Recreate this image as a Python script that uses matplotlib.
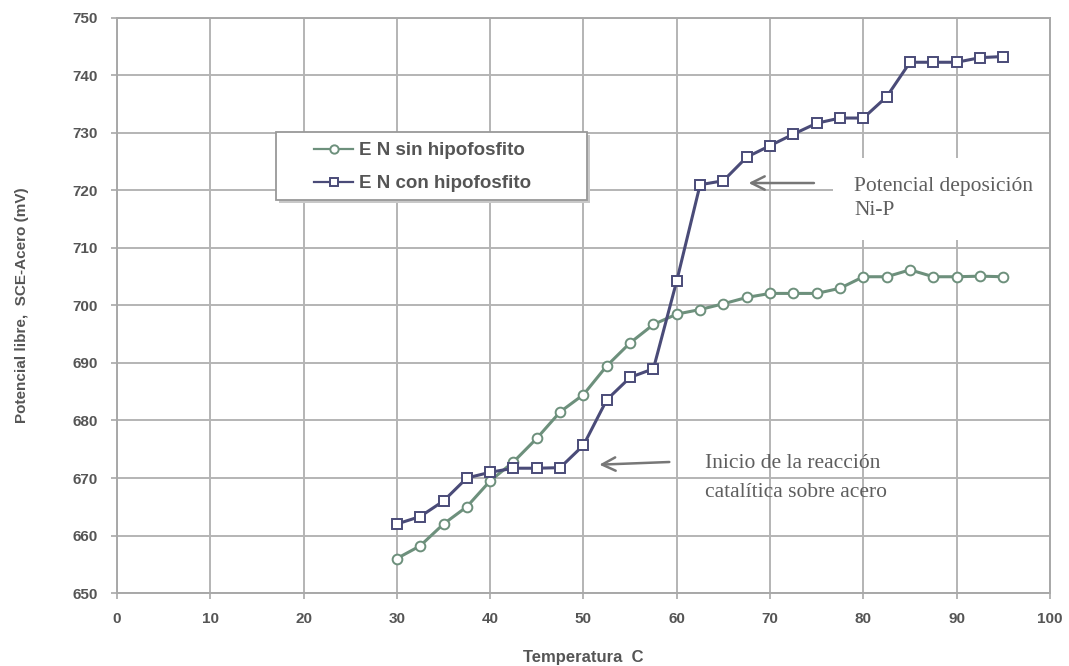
import matplotlib as mpl
import matplotlib.pyplot as plt
import numpy as np
from matplotlib.patches import Rectangle

# --- data ---
temp = np.arange(30, 95.1, 2.5)

sin_hipo = [656, 658.2, 662, 665, 669.5, 672.8, 676.9, 681.5, 684.5, 689.5,
            693.5, 696.7, 698.5, 699.3, 700.3, 701.4, 702.1, 702.1, 702.1,
            703, 705, 705, 706.2, 705, 705, 705.1, 705]

con_hipo = [662, 663.3, 666, 670, 671, 671.7, 671.7, 671.8, 675.7, 683.6,
            687.5, 689, 704.3, 721, 721.7, 725.8, 727.8, 729.8, 731.7,
            732.6, 732.6, 736.3, 742.3, 742.3, 742.3, 743.1, 743.3]

xticks = list(range(0, 101, 10))
yticks = list(range(650, 751, 10))

PALETTE = {
    "sin": "#6d907c",
    "con": "#4a4b78",
    "grid": "#b4b4b4",
    "text": "#555555",
    "note": "#5e5e5e",
}

mpl.rcParams.update({
    "font.family": ["Liberation Sans", "DejaVu Sans"],
    "font.size": 10,
})

fig = plt.figure(figsize=(10.69, 6.66), dpi=100)
ax = fig.add_axes([0.1094, 0.1096, 0.8728, 0.8634])

ax.set_xlim(0, 100)
ax.set_ylim(650, 750)
ax.set_xticks(xticks)
ax.set_yticks(yticks)
ax.grid(True, color=PALETTE["grid"], linewidth=1.4)
ax.set_axisbelow(True)
for sp in ax.spines.values():
    sp.set_color("#a8a8a8")
    sp.set_linewidth(1.4)

ax.tick_params(axis="both", colors="#a8a8a8", labelcolor=PALETTE["text"],
               labelsize=11, length=4, width=1.2)
ax.tick_params(axis="y", pad=10)
ax.tick_params(axis="x", pad=10)
for lab in ax.get_xticklabels() + ax.get_yticklabels():
    lab.set_fontweight("bold")

# Series
ax.plot(temp, sin_hipo, color=PALETTE["sin"], linewidth=2.2, marker="o",
        markersize=7, markerfacecolor="white", markeredgecolor=PALETTE["sin"],
        markeredgewidth=1.4, label="E N sin hipofosfito", zorder=3)
ax.plot(temp, con_hipo, color=PALETTE["con"], linewidth=2.2, marker="s",
        markersize=7, markerfacecolor="white", markeredgecolor=PALETTE["con"],
        markeredgewidth=1.4, label="E N con hipofosfito", zorder=4)

ax.set_xlabel("Temperatura  C", fontsize=12, fontweight="bold",
              color=PALETTE["text"], labelpad=17)
ax.set_ylabel("Potencial libre,  SCE-Acero (mV)", fontsize=11,
              fontweight="bold", color=PALETTE["text"], labelpad=31)

# Legend box drawn by hand (wide padding like the original)
box = Rectangle((0.171, 0.684), 0.333, 0.118, transform=ax.transAxes,
                facecolor="white", edgecolor="#999999", linewidth=1.3,
                zorder=5)
shadow = Rectangle((0.174, 0.679), 0.333, 0.118, transform=ax.transAxes,
                   facecolor="#c8c8c8", edgecolor="none", zorder=4.9)
ax.add_patch(shadow)
ax.add_patch(box)
leg = ax.legend(loc="upper left", bbox_to_anchor=(0.205, 0.794),
                frameon=False, fontsize=13.5, handlelength=2.1,
                handletextpad=0.3, labelspacing=0.85, borderpad=0.3,
                borderaxespad=0)
leg.set_zorder(6)
for h in leg.legend_handles:
    h.set_linewidth(1.6)
    h.set_markersize(6)
for t in leg.get_texts():
    t.set_color(PALETTE["text"])
    t.set_fontweight("bold")

# Annotations
serif = ["Liberation Serif", "DejaVu Serif"]
ax.add_patch(Rectangle((76.7, 711.4), 23.6, 14.3, facecolor="white",
                       edgecolor="none", zorder=2, clip_on=False))
ax.text(79.0, 718.6, "Potencial deposición\nNi-P", family=serif,
        fontsize=15.5, color=PALETTE["note"], va="center", ha="left",
        linespacing=1.4, zorder=6)
ax.annotate("", xy=(67.4, 721.3), xytext=(75.0, 721.3),
            arrowprops=dict(arrowstyle="->", color="#777777", lw=1.8,
                            mutation_scale=24))
ax.text(63.0, 670.0, "Inicio de la reacción\ncatalítica sobre acero",
        family=serif, fontsize=15.5, color=PALETTE["note"], va="center",
        ha="left", linespacing=1.7)
ax.annotate("", xy=(51.4, 672.3), xytext=(59.5, 672.8),
            arrowprops=dict(arrowstyle="->", color="#777777", lw=1.8,
                            mutation_scale=24))

fig.savefig("out.png", dpi=100)
